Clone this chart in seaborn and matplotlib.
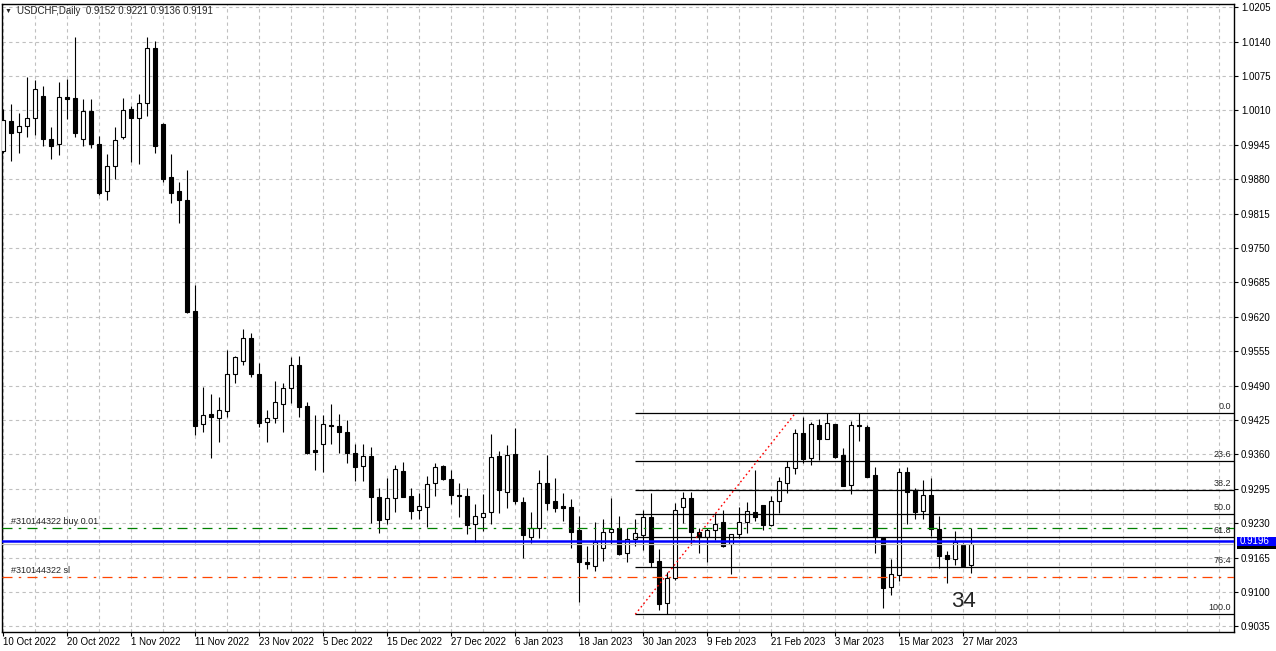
import matplotlib
matplotlib.use("Agg")
import matplotlib.pyplot as plt
import matplotlib.transforms as mtrans
from matplotlib.patches import Rectangle
import numpy as np
import pandas as pd
import seaborn as sns

# USDCHF daily candles (first bar 10 Oct 2022)
opens = [0.9934, 0.9990, 0.9969, 0.9980, 0.9995, 1.0037, 0.9957, 0.9946, 1.0035, 1.0034,
         0.9956, 1.0009, 0.9946, 0.9857, 0.9906, 0.9960, 1.0013, 0.9996, 1.0025, 1.0128,
         0.9985, 0.9884, 0.9858, 0.9841, 0.9631, 0.9417, 0.9437, 0.9428, 0.9442, 0.9513,
         0.9536, 0.9581, 0.9513, 0.9422, 0.9428, 0.9456, 0.9485, 0.9529, 0.9452, 0.9368,
         0.9379, 0.9416, 0.9414, 0.9402, 0.9362, 0.9338, 0.9358, 0.9280, 0.9238, 0.9277,
         0.9329, 0.9281, 0.9256, 0.9261, 0.9306, 0.9338, 0.9314, 0.9283, 0.9282, 0.9228,
         0.9241, 0.9251, 0.9357, 0.9290, 0.9361, 0.9270, 0.9205, 0.9221, 0.9306, 0.9272,
         0.9263, 0.9261, 0.9217, 0.9157, 0.9150, 0.9183, 0.9213, 0.9221, 0.9173, 0.9200,
         0.9207, 0.9242, 0.9158, 0.9079, 0.9126, 0.9261, 0.9277, 0.9213, 0.9204, 0.9217,
         0.9232, 0.9190, 0.9210, 0.9233, 0.9251, 0.9264, 0.9227, 0.9272, 0.9307, 0.9334,
         0.9400, 0.9353, 0.9416, 0.9389, 0.9418, 0.9359, 0.9302, 0.9416, 0.9412, 0.9321,
         0.9203, 0.9110, 0.9133, 0.9327, 0.9293, 0.9253, 0.9283, 0.9219, 0.9170, 0.9162,
         0.9189, 0.9152]
highs = [1.0013, 1.0022, 1.0006, 1.0073, 1.0068, 1.0056, 0.9979, 1.0064, 1.0070, 1.0149,
         1.0032, 1.0032, 0.9962, 0.9928, 0.9979, 1.0034, 1.0019, 1.0041, 1.0149, 1.0141,
         0.9986, 0.9928, 0.9875, 0.9898, 0.9680, 0.9488, 0.9474, 0.9469, 0.9557, 0.9546,
         0.9597, 0.9589, 0.9532, 0.9444, 0.9499, 0.9496, 0.9544, 0.9546, 0.9459, 0.9435,
         0.9435, 0.9455, 0.9437, 0.9425, 0.9379, 0.9379, 0.9374, 0.9296, 0.9316, 0.9340,
         0.9346, 0.9297, 0.9287, 0.9319, 0.9343, 0.9340, 0.9331, 0.9306, 0.9297, 0.9266,
         0.9285, 0.9399, 0.9367, 0.9378, 0.9410, 0.9280, 0.9251, 0.9331, 0.9359, 0.9315,
         0.9288, 0.9275, 0.9243, 0.9187, 0.9232, 0.9239, 0.9278, 0.9243, 0.9222, 0.9238,
         0.9255, 0.9287, 0.9181, 0.9138, 0.9268, 0.9290, 0.9290, 0.9221, 0.9221, 0.9249,
         0.9256, 0.9210, 0.9261, 0.9271, 0.9331, 0.9264, 0.9282, 0.9317, 0.9348, 0.9408,
         0.9430, 0.9421, 0.9427, 0.9438, 0.9418, 0.9373, 0.9424, 0.9438, 0.9416, 0.9336,
         0.9203, 0.9162, 0.9335, 0.9336, 0.9296, 0.9312, 0.9316, 0.9243, 0.9178, 0.9215,
         0.9192, 0.9221]
lows = [0.9930, 0.9915, 0.9930, 0.9960, 0.9964, 0.9943, 0.9919, 0.9926, 0.9994, 0.9960,
        0.9943, 0.9940, 0.9850, 0.9840, 0.9881, 0.9957, 0.9913, 0.9909, 0.9999, 0.9930,
        0.9874, 0.9836, 0.9798, 0.9628, 0.9396, 0.9403, 0.9354, 0.9384, 0.9431, 0.9496,
        0.9529, 0.9507, 0.9411, 0.9384, 0.9420, 0.9403, 0.9458, 0.9430, 0.9360, 0.9331,
        0.9327, 0.9379, 0.9362, 0.9343, 0.9310, 0.9310, 0.9230, 0.9212, 0.9229, 0.9252,
        0.9280, 0.9238, 0.9238, 0.9223, 0.9282, 0.9312, 0.9267, 0.9242, 0.9209, 0.9195,
        0.9215, 0.9228, 0.9250, 0.9259, 0.9266, 0.9165, 0.9193, 0.9203, 0.9255, 0.9252,
        0.9234, 0.9184, 0.9082, 0.9144, 0.9139, 0.9159, 0.9190, 0.9170, 0.9156, 0.9187,
        0.9180, 0.9148, 0.9067, 0.9058, 0.9123, 0.9231, 0.9189, 0.9174, 0.9157, 0.9198,
        0.9186, 0.9135, 0.9203, 0.9212, 0.9235, 0.9218, 0.9225, 0.9249, 0.9288, 0.9324,
        0.9343, 0.9340, 0.9350, 0.9389, 0.9353, 0.9301, 0.9285, 0.9386, 0.9318, 0.9173,
        0.9069, 0.9095, 0.9120, 0.9228, 0.9238, 0.9238, 0.9206, 0.9145, 0.9118, 0.9151,
        0.9148, 0.9136]
closes = [0.9992, 0.9968, 0.9980, 0.9995, 1.0050, 0.9957, 0.9943, 1.0035, 1.0032, 0.9968,
          1.0009, 0.9946, 0.9854, 0.9906, 0.9954, 1.0010, 0.9995, 1.0024, 1.0129, 0.9943,
          0.9881, 0.9855, 0.9840, 0.9629, 0.9414, 0.9434, 0.9430, 0.9444, 0.9513, 0.9544,
          0.9580, 0.9513, 0.9420, 0.9428, 0.9459, 0.9485, 0.9529, 0.9450, 0.9363, 0.9365,
          0.9418, 0.9413, 0.9402, 0.9362, 0.9337, 0.9358, 0.9280, 0.9237, 0.9277, 0.9332,
          0.9280, 0.9254, 0.9262, 0.9304, 0.9336, 0.9314, 0.9284, 0.9282, 0.9226, 0.9243,
          0.9249, 0.9355, 0.9292, 0.9359, 0.9273, 0.9207, 0.9222, 0.9306, 0.9269, 0.9259,
          0.9258, 0.9214, 0.9156, 0.9153, 0.9194, 0.9213, 0.9219, 0.9172, 0.9200, 0.9211,
          0.9241, 0.9156, 0.9077, 0.9126, 0.9255, 0.9277, 0.9214, 0.9204, 0.9217, 0.9229,
          0.9188, 0.9210, 0.9232, 0.9253, 0.9241, 0.9227, 0.9272, 0.9309, 0.9336, 0.9400,
          0.9352, 0.9417, 0.9390, 0.9419, 0.9356, 0.9301, 0.9415, 0.9413, 0.9318, 0.9204,
          0.9108, 0.9134, 0.9327, 0.9290, 0.9252, 0.9283, 0.9219, 0.9169, 0.9163, 0.9194,
          0.9150, 0.9191]

date_labels = ["10 Oct 2022", "20 Oct 2022", "1 Nov 2022", "11 Nov 2022", "23 Nov 2022",
               "5 Dec 2022", "15 Dec 2022", "27 Dec 2022", "6 Jan 2023", "18 Jan 2023",
               "30 Jan 2023", "9 Feb 2023", "21 Feb 2023", "3 Mar 2023", "15 Mar 2023",
               "27 Mar 2023"]
price_ticks = [0.9035, 0.9100, 0.9165, 0.9230, 0.9295, 0.9360, 0.9425, 0.9490, 0.9555,
               0.9620, 0.9685, 0.9750, 0.9815, 0.9880, 0.9945, 1.0010, 1.0075, 1.0140, 1.0205]

# fibonacci retracement and order lines
fib_levels = [0.0, 23.6, 38.2, 50.0, 61.8, 76.4, 100.0]
fib_high = 0.9438
fib_low = 0.9058
fib_start_bar = 79
fib_end_bar = 99
buy_price = 0.9221
sl_price = 0.9129
hline_price = 0.9196
bid_price = 0.9191

df = pd.DataFrame({"open": opens, "high": highs, "low": lows, "close": closes},
                  index=pd.bdate_range("2022-10-10", periods=len(opens)))
df["i"] = np.arange(len(df))
up = df["close"] >= df["open"]

sns.set_theme(style="white")
plt.rcParams["font.family"] = ["Liberation Sans", "DejaVu Sans"]

fig = plt.figure(figsize=(12.76, 6.51), dpi=100)
ax = fig.add_axes([2.5 / 1276, 19.5 / 651, 1231.5 / 1276, 627.5 / 651])
ax.set_xlim(-0.1, 153.84)
ax.set_ylim(0.90255, 1.02112)

# grid
ax.set_yticks(price_ticks)
ax.set_yticklabels([f"{p:.4f}" for p in price_ticks])
ax.set_xticks(np.arange(len(date_labels)) * 8)
ax.set_xticklabels(date_labels, ha="left")
ax.set_xticks(np.arange(0, 156, 4), minor=True)
ax.grid(True, which="both", axis="x", color="#c0c0c0", linestyle=(0, (3, 3)), lw=0.8)
ax.grid(True, which="major", axis="y", color="#c0c0c0", linestyle=(0, (3, 3)), lw=0.8)
ax.set_axisbelow(True)

ax.yaxis.tick_right()
ax.tick_params(axis="y", which="major", right=True, length=3, width=0.8, pad=2,
               labelsize=7, colors="black")
ax.tick_params(axis="x", which="major", bottom=True, length=3, width=0.8, pad=1,
               labelsize=7, colors="black")
ax.tick_params(axis="x", which="minor", length=0)
for s in ax.spines.values():
    s.set_color("black")
    s.set_linewidth(1)

# candles
ax.vlines(df["i"], df["low"], df["high"], color="black", lw=0.8, zorder=3)
ax.bar(df["i"], (df["close"] - df["open"]).abs().clip(lower=0.00003),
       bottom=df[["open", "close"]].min(axis=1), width=0.5,
       color=np.where(up, "white", "black"), edgecolor="black", linewidth=0.8, zorder=4)

# fibonacci
fib_prices = [fib_high - (fib_high - fib_low) * lv / 100 for lv in fib_levels]
ax.hlines(fib_prices, fib_start_bar, 200, color="black", lw=0.9, zorder=5)
ax.plot([fib_start_bar, fib_end_bar], [fib_low, fib_high], color="red",
        ls=(0, (1.2, 2)), lw=1, zorder=5)
rtrans = mtrans.blended_transform_factory(ax.transAxes, ax.transData)
for lv, p in zip(fib_levels, fib_prices):
    ax.annotate(f"{lv:.1f}", xy=(1, p), xycoords=rtrans, xytext=(-2, 1.5),
                textcoords="offset points", ha="right", va="bottom", fontsize=6.5, zorder=6)

# order / price lines
ax.axhline(bid_price, color="#c0c0c0", lw=0.9, zorder=5)
ax.axhline(hline_price, color="#0000ff", lw=1.8, zorder=6)
ax.axhline(buy_price, color="#008000", lw=0.9, ls=(0, (8, 5, 2, 5)), zorder=5)
ax.axhline(sl_price, color="#ff4500", lw=0.9, ls=(0, (8, 5, 2, 5)), zorder=5)
ax.annotate("#310144322 buy 0.01", xy=(0, buy_price), xycoords=rtrans, xytext=(6, 1.5),
            textcoords="offset points", ha="left", va="bottom", fontsize=6.5, zorder=6)
ax.annotate("#310144322 sl", xy=(0, sl_price), xycoords=rtrans, xytext=(6, 1.5),
            textcoords="offset points", ha="left", va="bottom", fontsize=6.5, zorder=6)

# price boxes on the right axis (bid box mostly hidden under the line box)
ftrans = mtrans.blended_transform_factory(fig.transFigure, ax.transData)
box_h = 0.0018
fig.add_artist(Rectangle((1237 / 1276, bid_price - box_h / 2), 39 / 1276, box_h,
                         transform=ftrans, fc="black", ec="none", zorder=7))
fig.add_artist(Rectangle((1237 / 1276, hline_price - box_h / 2), 39 / 1276, box_h,
                         transform=ftrans, fc="#0000ff", ec="none", zorder=8))
fig.text(1240 / 1276, hline_price, f"{hline_price:.4f}", transform=ftrans,
         ha="left", va="center", fontsize=7, color="white", zorder=9)

ax.text(len(df) - 2, 0.9083, "34", fontsize=16, ha="center", va="center", zorder=6)

# header
last = df.iloc[-1]
fig.text(5 / 1276, 1 - 11 / 651, "\u25bc", fontsize=5, va="center", ha="left")
fig.text(17 / 1276, 1 - 11 / 651,
         f"USDCHF,Daily  {last['open']:.4f} {last['high']:.4f} {last['low']:.4f} {last['close']:.4f}",
         fontsize=7, va="center", ha="left")

fig.savefig("out.png", dpi=100)
